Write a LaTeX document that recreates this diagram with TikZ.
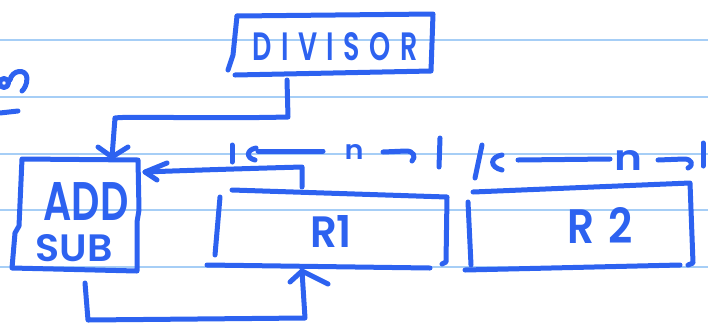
\documentclass[tikz,border=0pt]{standalone}
\usepackage{fontspec}
\setmainfont{Poppins}
\newfontfamily\inkfont{Poppins SemiBold}
\usepackage{graphicx}
\definecolor{ink}{RGB}{45,98,240}
\definecolor{ruling}{RGB}{166,206,246}
% a word stretched to a given width and height (in pt)
\newcommand\inkword[3]{\resizebox{#1pt}{#2pt}{\inkfont #3}}

\begin{document}
\begin{tikzpicture}[x=1pt,y=-1pt,
  pen/.style={draw=ink,line width=5pt,line cap=round,line join=round},
  word/.style={inner sep=0pt,outer sep=0pt,text=ink},
  paper/.style={draw=ruling,line width=2pt}]
\useasboundingbox (0,0) rectangle (708,322);

% ruled paper
\foreach \yy in {40,97,154,210,267} \draw[paper] (0,\yy) -- (708,\yy);

% fragment of a letter at the left margin
\draw[pen] (4,83) circle (4.5);
\draw[pen] (10,80) .. controls (12,70) and (26,68) .. (27,78) .. controls (27,85) and (24,89) .. (22,91);
\draw[pen] (0,113) -- (18,111);

% DIVISOR box
\draw[pen] (237,16) -- (433,14) -- (431,71) -- (235,75);
\draw[pen] (237,16) -- (233,55) -- (228,70);
\node[word] (divisor) at (335,47) {\inkword{165}{28}{D\hskip.35em I\hskip.35em V\hskip.35em I\hskip.35em S\hskip.35em O\hskip.35em R}};

% ADD / SUB box
\draw[pen] (12,268) -- (15,233) -- (19,226) -- (22,159) -- (138,160) -- (139,210)
  -- (137,222) -- (137,271) -- cycle;
\node[word] (add) at (86,201) {\inkword{85}{38}{ADD}};
\node[word] (sub) at (74,248) {\inkword{77}{27}{SUB}};

% register R1
\draw[pen] (232,190) -- (447,197) -- (446,262) -- (442,264);
\draw[pen] (207,265) -- (430,268);
\draw[pen] (220,197) -- (215,255);
\node[word] (rone) at (331,231) {\inkword{42}{32}{R1}};

% register R2
\draw[pen] (473,192) -- (690,183) -- (693,263) -- (688,265);
\draw[pen] (465,270) -- (680,265);
\draw[pen] (468,202) -- (471,265);
\node[word] (rtwo) at (600,225) {\inkword{66}{36}{R\hskip.35em 2}};

% connector: DIVISOR -> ADD/SUB
\coordinate (divOut) at (287,80);
\coordinate (addIn) at (112,157);
\draw[pen] (divOut) -- (288,117) .. controls (200,119) and (130,116) .. (115,118) -- (addIn);
\draw[pen] (98,147) -- (addIn) -- (128,147);

% connector: R1 -> ADD/SUB
\coordinate (roneOut) at (302,187);
\coordinate (addSide) at (145,172);
\draw[pen] (roneOut) -- (302,167) .. controls (230,169) and (170,171) .. (addSide);
\draw[pen] (167,163) -- (addSide) -- (157,180);

% connector: ADD/SUB -> R1
\coordinate (addOut) at (85,283);
\coordinate (roneIn) at (302,271);
\draw[pen] (addOut) -- (88,320) -- (305,318) -- (roneIn);
\draw[pen] (290,282) -- (roneIn) -- (328,284);

% width marks over R1
\coordinate (w1a) at (232,145);
\coordinate (w1b) at (440,138);
\draw[pen] (w1a) -- (232,162);
\draw[pen] (256,148) .. controls (246,150) and (246,158) .. (255,160);
\draw[pen] (258,151) -- (323,151);
\node[word] (none) at (354,152) {\inkword{19}{15}{n}};
\draw[pen] (383,152) -- (406,151) .. controls (414,151) and (416,157) .. (412,161);
\draw[pen] (w1b) -- (439,167);

% width marks over R2
\coordinate (w2a) at (482,145);
\coordinate (w2b) at (703,143);
\draw[pen] (w2a) -- (475,178);
\draw[pen] (502,155) .. controls (490,157) and (489,167) .. (502,170);
\draw[pen] (518,160) -- (610,159);
\node[word] (ntwo) at (628,160) {\inkword{28}{20}{n}};
\draw[pen] (658,160) -- (684,159) .. controls (692,159) and (694,165) .. (688,168);
\draw[pen] (w2b) -- (703,166);
\end{tikzpicture}
\end{document}
